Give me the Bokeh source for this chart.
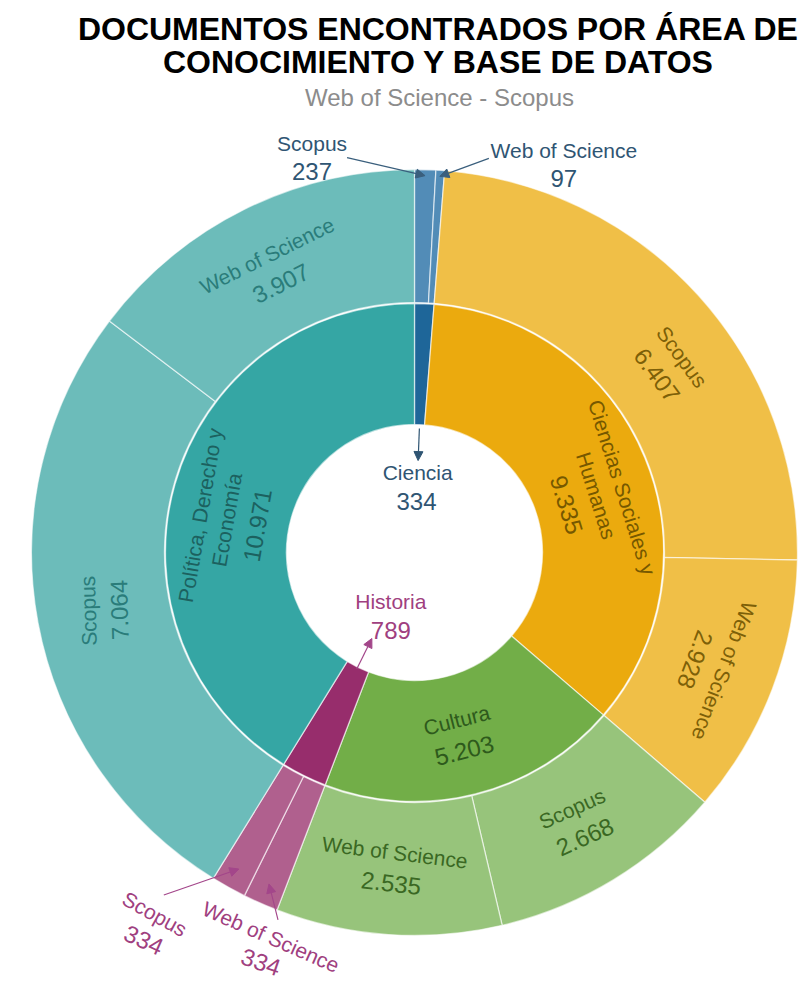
import math
from bokeh.plotting import figure
from bokeh.models import Range1d, Arrow, NormalHead, ColumnDataSource
from bokeh.core.properties import value
from bokeh.embed import file_html
from bokeh.resources import INLINE

# ---------------- data ----------------
area_names = ["Ciencia", "Ciencias Sociales y Humanas", "Cultura", "Historia",
              "Política, Derecho y Economía"]
area_label_lines = [["Ciencia"], ["Ciencias Sociales y", "Humanas"], ["Cultura"],
                    ["Historia"], ["Política, Derecho y", "Economía"]]
area_values = [334, 9335, 5203, 789, 10971]

# outer ring: databases per area, clockwise order
db_names = [["Scopus", "Web of Science"], ["Scopus", "Web of Science"],
            ["Scopus", "Web of Science"], ["Web of Science", "Scopus"],
            ["Scopus", "Web of Science"]]
db_values = [[237, 97], [6407, 2928], [2668, 2535], [334, 334], [7064, 3907]]

title_lines = ["DOCUMENTOS ENCONTRADOS POR ÁREA DE", "CONOCIMIENTO Y BASE DE DATOS"]
subtitle = "Web of Science - Scopus"

# ---------------- style ----------------
inner_colors = ["#1E6699", "#EBAA0E", "#72AE48", "#972D6C", "#35A6A4"]
outer_colors = ["#528CB7", "#F0BF47", "#97C47B", "#B0608E", "#6CBCBA"]
inner_text_colors = ["#2F5573", "#765800", "#2E5A1C", "#A03F80", "#1C615F"]
outer_text_colors = ["#2F5573", "#7D6008", "#3A6823", "#A03F80", "#2A7C7A"]
FONT = "Liberation Sans"
NAME_SIZE, VALUE_SIZE = 21, 24

# label placement tweaks: (angle shift of position+rotation, extra rotation)
inner_tweak = {1: (5, 0), 4: (-6, 0)}
outer_tweak = {(1, 0): (6, 0), (4, 0): (0, -9), (2, 0): (0, -7), (2, 1): (0, -3)}

W, H = 801, 983
CX, CY = 414, 552
R_HOLE, R_MID, R_OUT = 128, 249, 383


def fmt(v):
    return f"{v:,}".replace(",", ".")


def polar(theta_deg, r):
    t = math.radians(theta_deg)
    return CX + r * math.sin(t), -CY + r * math.cos(t)


def tangential(theta):
    if 120 < theta < 240:
        return 180 - theta
    return -theta


p = figure(width=W, height=H, x_range=Range1d(0, W), y_range=Range1d(-H, 0),
           output_backend="svg", toolbar_location=None, min_border=0,
           x_axis_location=None, y_axis_location=None)
p.grid.visible = False
p.outline_line_color = None
p.background_fill_color = "white"
p.border_fill_color = "white"

TOTAL = sum(area_values)
inner_wedges = dict(s=[], e=[], c=[])
outer_wedges = dict(s=[], e=[], c=[])
inner_segs = []
outer_segs = []
acc = 0
for i, v in enumerate(area_values):
    t1 = acc / TOTAL * 360
    acc += v
    t2 = acc / TOTAL * 360
    inner_wedges["s"].append(math.radians(90 - t2))
    inner_wedges["e"].append(math.radians(90 - t1))
    inner_wedges["c"].append(inner_colors[i])
    inner_segs.append((i, t1, t2))
    sub_total = sum(db_values[i])
    a = t1
    for j, sv in enumerate(db_values[i]):
        b = a + (t2 - t1) * sv / sub_total
        outer_wedges["s"].append(math.radians(90 - b))
        outer_wedges["e"].append(math.radians(90 - a))
        outer_wedges["c"].append(outer_colors[i])
        outer_segs.append((i, j, a, b))
        a = b

p.annular_wedge(x=CX, y=-CY, inner_radius=R_HOLE, outer_radius=R_MID,
                start_angle="s", end_angle="e", fill_color="c",
                line_color="white", line_width=1.3, line_alpha=0.6,
                source=ColumnDataSource(inner_wedges))
p.annular_wedge(x=CX, y=-CY, inner_radius=R_MID + 1, outer_radius=R_OUT,
                start_angle="s", end_angle="e", fill_color="c",
                line_color="white", line_width=1.3, line_alpha=0.6,
                source=ColumnDataSource(outer_wedges))

labels = dict(x=[], y=[], t=[], a=[], size=[], color=[])


def add_text(x, y, t, ang_deg, size, color):
    labels["x"].append(x)
    labels["y"].append(y)
    labels["t"].append(t)
    labels["a"].append(math.radians(ang_deg))
    labels["size"].append(f"{size}px")
    labels["color"].append(color)


def block(theta, r, lines, color, extra_rot=0):
    ang = tangential(theta) + extra_rot
    cx, cy = polar(theta, r)
    ux, uy = -math.sin(math.radians(ang)), math.cos(math.radians(ang))
    gaps = []
    for k in range(len(lines) - 1):
        gaps.append(31 if k == len(lines) - 2 else 27)
    off = sum(gaps) / 2
    for k, (txt, size) in enumerate(lines):
        add_text(cx + ux * off, cy + uy * off, txt, ang, size, color)
        if k < len(gaps):
            off -= gaps[k]


arrows = []

# inner ring labels
for i, t1, t2 in inner_segs:
    mid = (t1 + t2) / 2
    col = inner_text_colors[i]
    if t2 - t1 > 15:
        shift, rot = inner_tweak.get(i, (0, 0))
        lines = [(s, NAME_SIZE) for s in area_label_lines[i]] + [(fmt(area_values[i]), VALUE_SIZE)]
        block(mid + shift, (R_HOLE + R_MID) / 2, lines, col, rot)
    elif mid < 90:
        # label inside the hole, arrow pointing from the slice
        x0, y0 = polar(mid, R_HOLE - 4)
        x1, y1 = polar(mid, 92)
        arrows.append((x0, y0, x1, y1, "#2F5573"))
        lx, ly = polar(mid, 80)
        add_text(lx, ly, area_label_lines[i][0], 0, 21, col)
        lx, ly = polar(mid, 51)
        add_text(lx, ly, fmt(area_values[i]), 0, 24, col)
    else:
        x0, y0 = polar(mid, R_HOLE + 2)
        x1, y1 = polar(mid, 96)
        arrows.append((x0, y0, x1, y1, "#A3468A"))
        add_text(x1 + 19, y1 + 37, area_label_lines[i][0], 0, 21, col)
        add_text(x1 + 19, y1 + 8, fmt(area_values[i]), 0, 24, col)

# callout offsets (screen px) relative to arrow tip: arrow start, name, value
callout_style = {
    (0, 0): dict(r=377, start=(-78, -18), name=(-113, -32), val=(-113, -4), rot=False),
    (0, 1): dict(r=377, start=(49, -18), name=(124, -26), val=(124, 2), rot=False),
    (3, 0): dict(r=362, start=(9, 36), name=(2, 53), val=(-8, 78), rot=True),
    (3, 1): dict(r=362, start=(-75, 26), name=(-84, 45), val=(-95, 71), rot=True),
}

for i, j, a, b in outer_segs:
    mid = (a + b) / 2
    col = outer_text_colors[i]
    if b - a > 15:
        shift, rot = outer_tweak.get((i, j), (0, 0))
        block(mid + shift, (R_MID + R_OUT) / 2,
              [(db_names[i][j], NAME_SIZE), (fmt(db_values[i][j]), VALUE_SIZE)], col, rot)
    else:
        st = callout_style[(i, j)]
        tx, ty = polar(mid, st["r"])
        sx, sy = tx + st["start"][0], ty - st["start"][1]
        arrows.append((sx, sy, tx, ty, "#3A5F7D" if i == 0 else "#A3468A"))
        ang = tangential(mid) if st["rot"] else 0
        add_text(tx + st["name"][0], ty - st["name"][1], db_names[i][j], ang, 21, col)
        add_text(tx + st["val"][0], ty - st["val"][1], fmt(db_values[i][j]),
                 ang + (5 if st["rot"] else 0), 24, col)

p.text(x="x", y="y", text="t", angle="a", text_font_size="size", text_color="color",
       text_align="center", text_baseline="middle", text_font=value(FONT),
       source=ColumnDataSource(labels))

for x0, y0, x1, y1, c in arrows:
    p.add_layout(Arrow(x_start=x0, y_start=y0, x_end=x1, y_end=y1,
                       line_color=c, line_width=1.2,
                       end=NormalHead(size=9, fill_color=c, line_color=c, line_width=1)))

# titles
p.text(x=[438, 438], y=[-28, -61], text=title_lines, text_align="center",
       text_baseline="middle", text_font=value(FONT), text_font_style="bold",
       text_font_size="32px", text_color="black")
p.text(x=[439], y=[-97], text=[subtitle], text_align="center", text_baseline="middle",
       text_font=value(FONT), text_font_size="24px", text_color="#8C8C8C")

open("out.html", "w").write(file_html(p, INLINE))
